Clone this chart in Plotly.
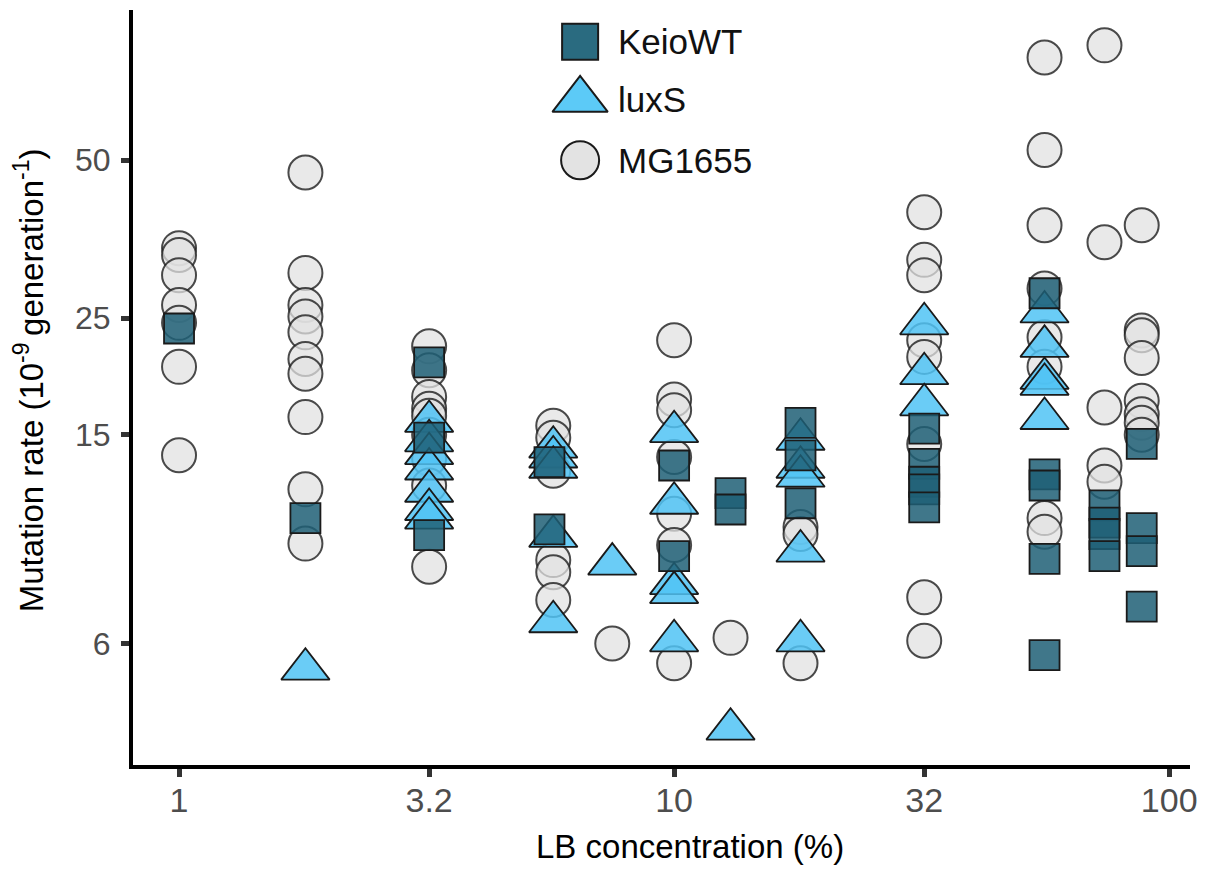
import plotly.graph_objects as go

# ---- data ----
keio_conc = [1, 1.8, 3.2, 3.2, 3.2, 5.6, 5.6, 10, 10, 13, 13, 18, 18, 18,
             32, 32, 32, 32, 32, 56, 56, 56, 56, 56, 74, 74, 74, 74, 88, 88, 88, 88]
keio_rate = [23.9, 10.4, 20.6, 14.8, 9.65, 13.3, 9.9, 13.1, 8.8, 11.6, 10.8, 15.8, 13.7, 11.1,
             15.4, 13.2, 12.2, 11.8, 10.9, 27.9, 12.6, 12.0, 8.7, 5.7, 11.0, 10.2, 9.7, 8.8,
             14.4, 9.95, 9.0, 7.05]

luxs_conc = [1.8, 3.2, 3.2, 3.2, 3.2, 3.2, 3.2, 3.2, 5.7, 5.7, 5.7, 5.7, 5.7, 7.5,
             10, 10, 10, 10, 10, 13, 18, 18, 18, 18, 18, 32, 32, 32, 56, 56, 56, 56, 56]
luxs_rate = [5.36, 15.9, 14.6, 13.8, 12.9, 11.7, 10.8, 10.4, 14.2, 13.6, 13.0, 9.6, 6.6, 8.5,
             15.2, 11.1, 7.8, 7.5, 6.07, 4.12, 14.7, 13.0, 12.5, 9.0, 6.07, 24.4, 19.6, 17.1,
             25.7, 22.1, 19.2, 18.7, 16.1]

mg_conc = [1, 1, 1, 1, 1, 1, 1,
           1.8, 1.8, 1.8, 1.8, 1.8, 1.8, 1.8, 1.8, 1.8, 1.8,
           3.2, 3.2, 3.2, 3.2, 3.2, 3.2, 3.2, 3.2, 3.2,
           5.7, 5.7, 5.7, 5.7, 5.7, 5.7,
           7.5,
           10, 10, 10, 10, 10, 10, 10,
           13,
           18, 18, 18,
           32, 32, 32, 32, 32, 32, 32, 32,
           56, 56, 56, 56, 56, 56, 56, 56,
           74, 74, 74, 74, 74,
           88, 88, 88, 88, 88, 88, 88, 88]
mg_rate = [34.0, 33.0, 30.2, 26.5, 24.5, 20.2, 13.7,
           47.4, 30.5, 26.5, 25.2, 23.5, 20.9, 19.6, 16.2, 11.8, 9.3,
           22.1, 19.9, 17.7, 16.8, 16.3, 15.0, 13.5, 12.0, 8.4,
           15.6, 14.8, 12.8, 8.65, 8.2, 7.26,
           6.0,
           22.7, 17.5, 16.7, 13.6, 10.6, 9.24, 5.5,
           6.15,
           10.0, 9.7, 5.5,
           39.8, 32.3, 30.2, 22.7, 21.1, 14.4, 7.35, 6.07,
           78.5, 52.3, 37.6, 28.5, 23.0, 20.2, 10.4, 9.8,
           82.8, 34.9, 16.9, 13.1, 12.2,
           37.6, 23.7, 23.2, 21.0, 17.4, 16.4, 15.8, 15.0]

x_ticks = [1, 3.2, 10, 32, 100]
x_tick_labels = ["1", "3.2", "10", "32", "100"]
y_ticks = [6, 15, 25, 50]
y_tick_labels = ["6", "15", "25", "50"]

series_names = ["KeioWT", "luxS", "MG1655"]
x_title = "LB concentration (%)"
y_title = "Mutation rate (10<sup>-9 </sup>generation<sup>-1</sup>)"

# ---- styles ----
KEIO_FILL = "rgba(30,95,117,0.85)"
LUXS_FILL = "rgba(80,195,245,0.85)"
MG_FILL = "rgba(226,226,226,0.75)"
EDGE = "#1a1a1a"
FONT = "Liberation Sans, Arial, sans-serif"

fig = go.Figure()

fig.add_trace(go.Scatter(x=mg_conc, y=mg_rate, mode="markers", name="MG1655",
                         marker=dict(symbol="circle", size=34, color=MG_FILL,
                                     line=dict(color="rgba(30,30,30,0.8)", width=2)),
                         showlegend=False))
fig.add_trace(go.Scatter(x=luxs_conc, y=luxs_rate, mode="markers", name="luxS",
                         marker=dict(symbol="triangle-up", size=42, color=LUXS_FILL,
                                     line=dict(color=EDGE, width=1.8)),
                         showlegend=False))
fig.add_trace(go.Scatter(x=keio_conc, y=keio_rate, mode="markers", name="KeioWT",
                         marker=dict(symbol="square", size=30, color=KEIO_FILL,
                                     line=dict(color=EDGE, width=1.8)),
                         showlegend=False))

# ---- manual legend (large keys) on hidden overlay axes ----
leg_key_x = [0.423, 0.423, 0.423]
leg_key_y = [0.958, 0.881, 0.801]
leg_symbols = ["square", "triangle-up", "circle"]
leg_sizes = [36, 48, 38]
leg_fills = ["#2a6b80", "#5ccaf7", "#e3e3e3"]
for i in range(3):
    fig.add_trace(go.Scatter(x=[leg_key_x[i]], y=[leg_key_y[i]], mode="markers",
                             xaxis="x2", yaxis="y2", showlegend=False, hoverinfo="skip",
                             marker=dict(symbol=leg_symbols[i], size=leg_sizes[i],
                                         color=leg_fills[i], line=dict(color=EDGE, width=2))))
    fig.add_annotation(x=0.457, y=leg_key_y[i], xref="paper", yref="paper",
                       text=series_names[i], showarrow=False, xanchor="left", yanchor="middle",
                       font=dict(family=FONT, size=35, color="#111111"))

# axis titles as annotations for exact placement
fig.add_annotation(x=0.527, y=-0.108, xref="paper", yref="paper", text=x_title,
                   showarrow=False, xanchor="center", yanchor="middle",
                   font=dict(family=FONT, size=33, color="black"))
fig.add_annotation(x=-0.098, y=0.51, xref="paper", yref="paper", text=y_title,
                   showarrow=False, xanchor="center", yanchor="middle", textangle=-90,
                   font=dict(family=FONT, size=33, color="black"))

fig.update_layout(
    width=1207, height=870,
    margin=dict(l=133, r=17, t=10, b=105),
    paper_bgcolor="white", plot_bgcolor="white",
    font=dict(family=FONT),
    xaxis=dict(type="log", range=[-0.093, 2.042],
               tickvals=x_ticks, ticktext=x_tick_labels,
               showgrid=False, zeroline=False,
               showline=True, linecolor="black", linewidth=4,
               ticks="outside", ticklen=8, tickwidth=5, tickcolor="#333333",
               ticklabelstandoff=-6,
               tickfont=dict(size=34, color="#4d4d4d", family=FONT)),
    yaxis=dict(type="log", range=[0.5465, 1.9854],
               tickvals=y_ticks, ticktext=y_tick_labels,
               showgrid=False, zeroline=False,
               showline=True, linecolor="black", linewidth=4,
               ticks="outside", ticklen=8, tickwidth=5, tickcolor="#333333",
               ticklabelstandoff=4,
               tickfont=dict(size=32, color="#4d4d4d", family=FONT)),
    xaxis2=dict(overlaying="x", range=[0, 1], visible=False, fixedrange=True),
    yaxis2=dict(overlaying="y", range=[0, 1], visible=False, fixedrange=True),
)

fig.write_html("out.html")
